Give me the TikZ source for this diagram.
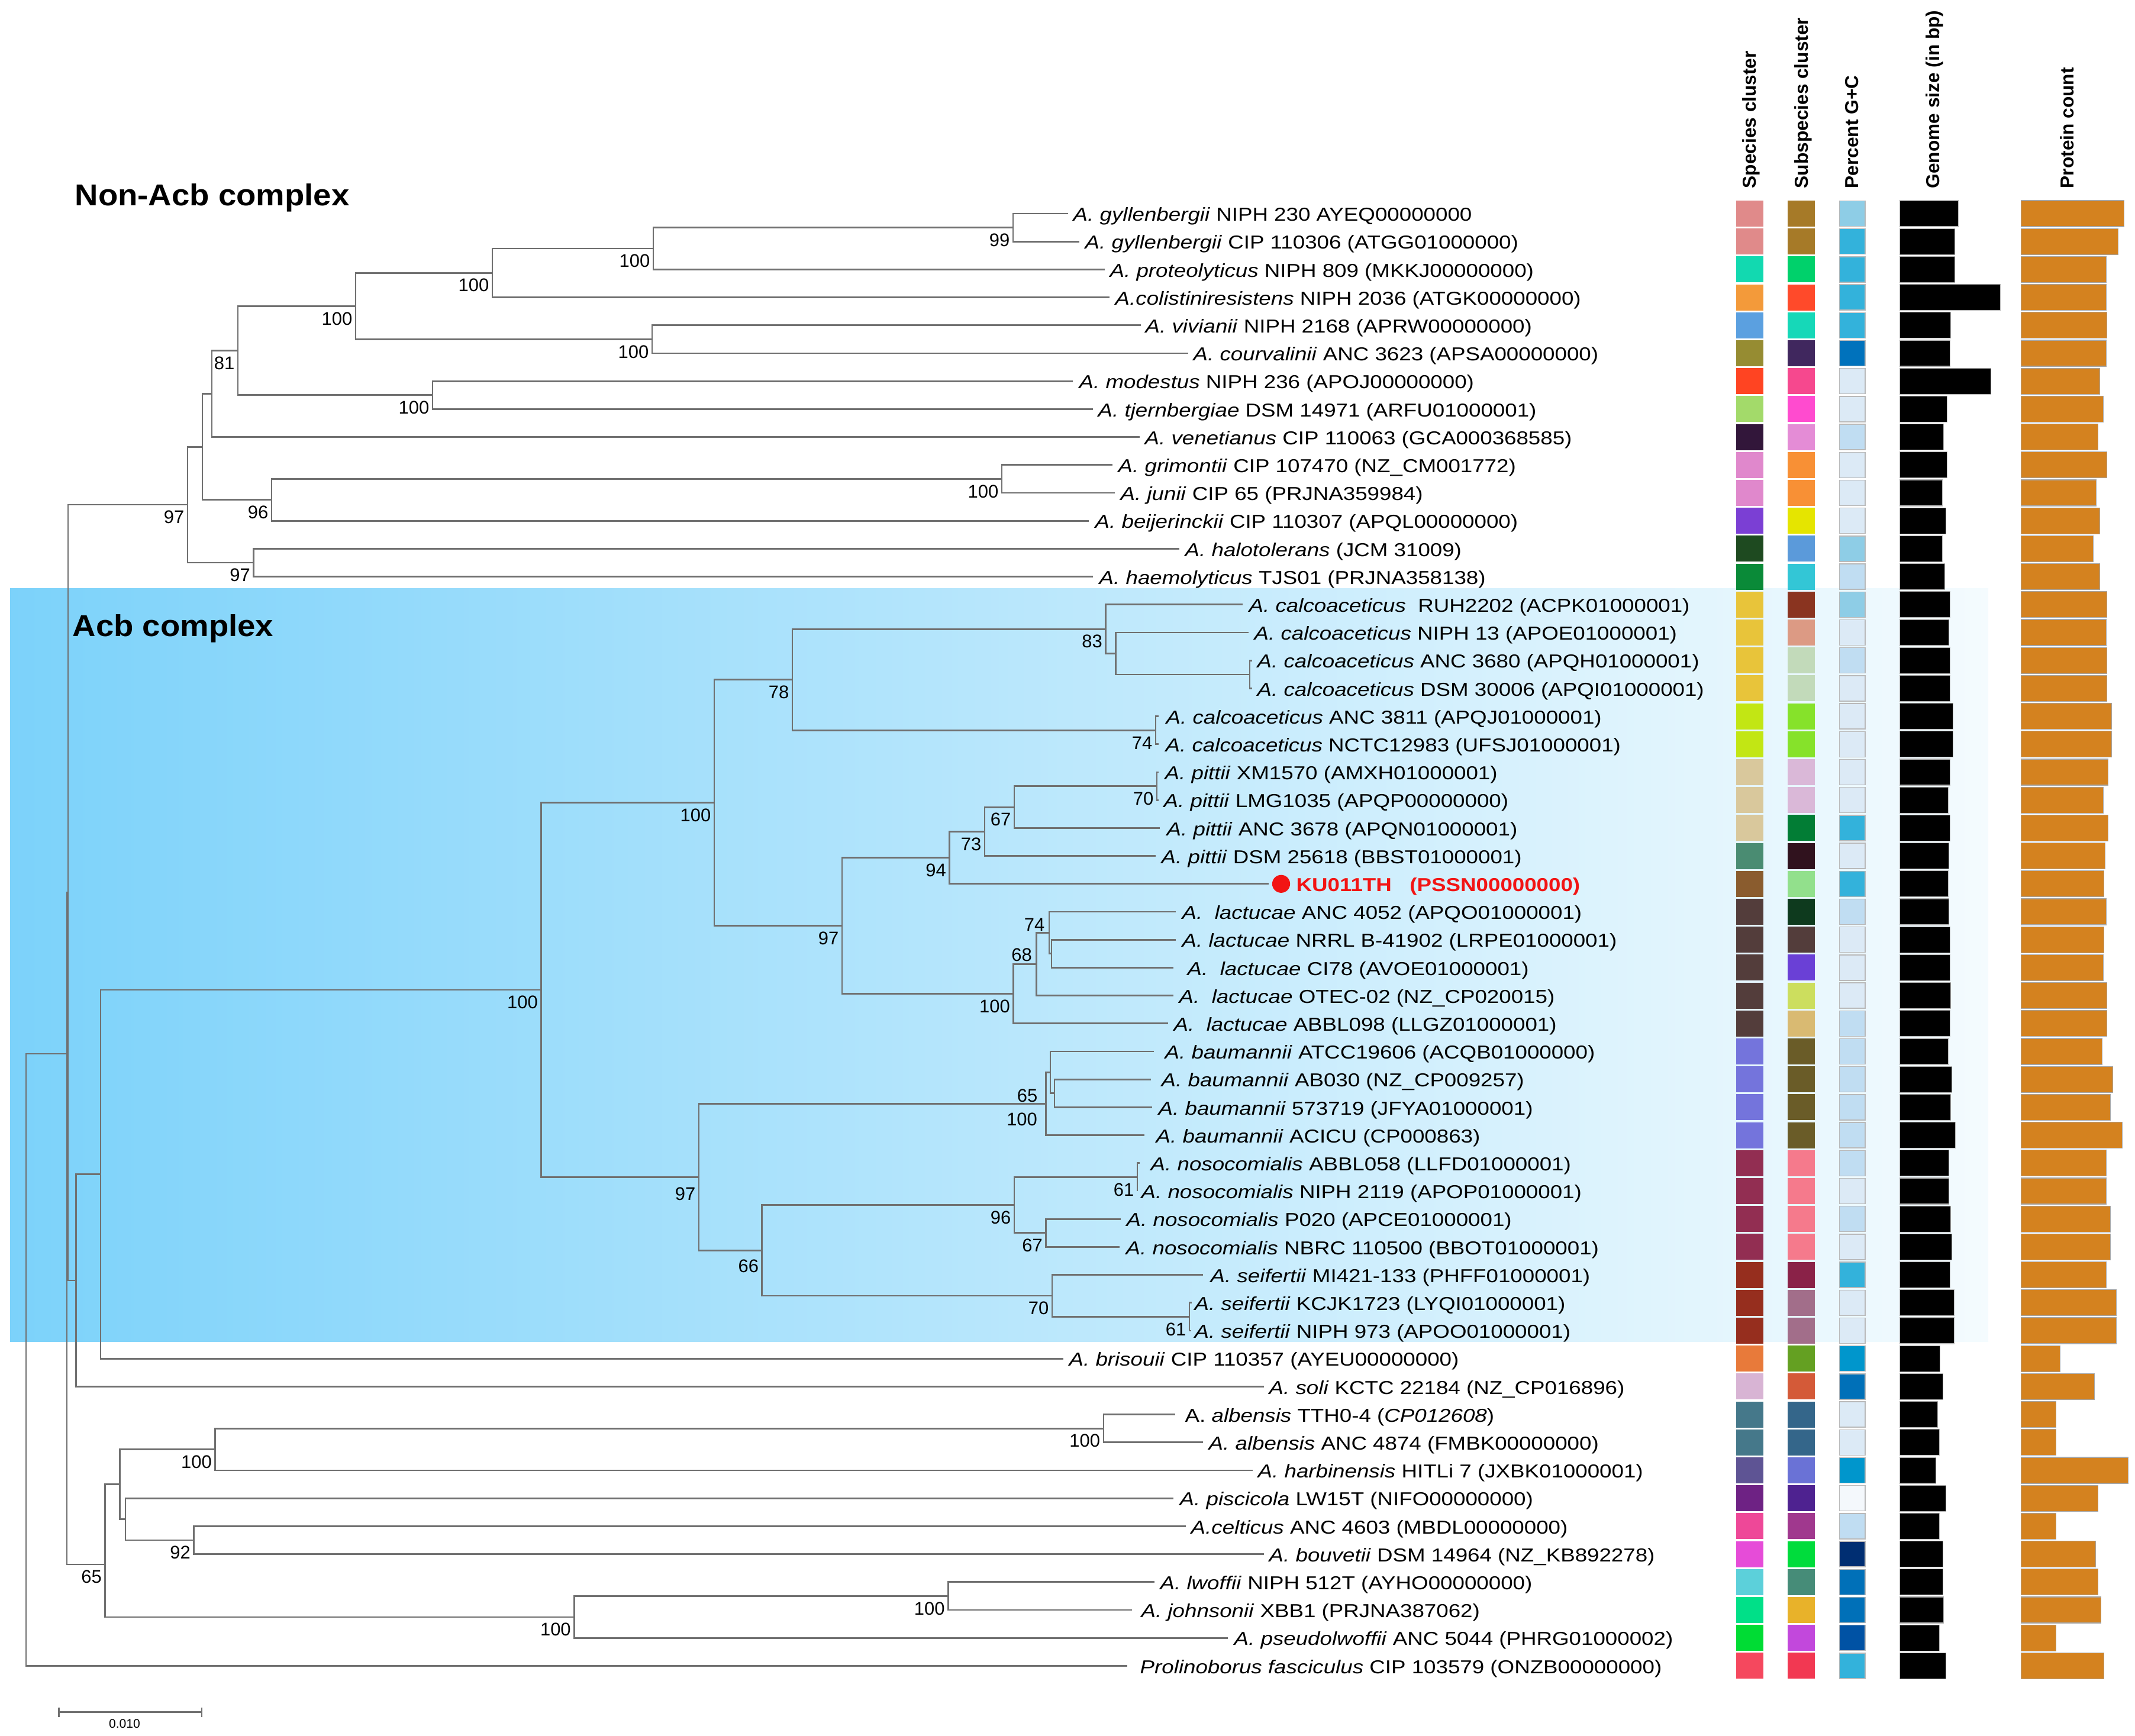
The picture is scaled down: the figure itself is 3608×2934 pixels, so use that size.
\documentclass[tikz,border=0pt]{standalone}
\usepackage{fontspec}
\setmainfont{Liberation Sans}
\newfontfamily\leaffont{Liberation Sans}[FakeStretch=1.16]
\newfontfamily\titlefont{Liberation Sans}[FakeStretch=1.07]
\usetikzlibrary{calc}

\definecolor{branchgray}{HTML}{707070}
\definecolor{protorange}{HTML}{D4821F}
\definecolor{kured}{HTML}{F21414}
\definecolor{acbleft}{HTML}{7CD2FA}
\definecolor{acbmid}{HTML}{C2EAFC}
\definecolor{acbright}{HTML}{F4FBFE}

\tikzset{
  br/.style={draw=branchgray, line width=0.75pt},
  leaftxt/.style={anchor=west, inner sep=0pt, text height=0.72em, text depth=0pt,
    font=\leaffont\fontsize{9}{10}\selectfont},
  bs/.style={anchor=east, inner sep=0pt, text height=0.72em, text depth=0pt,
    font=\fontsize{8.8}{10}\selectfont},
  colhead/.style={rotate=90, anchor=west, inner sep=0pt, text height=0.72em, text depth=0pt,
    font=\bfseries\fontsize{9}{10}\selectfont},
  grouptitle/.style={anchor=west, inner sep=0pt, text height=0.72em, text depth=0pt,
    font=\titlefont\bfseries\fontsize{14.5}{16}\selectfont},
}

% leaf: name, row, tip x, text x, label
\newcommand{\leaf}[5]{%
  \coordinate (#1) at (#3,{361+47.2*(#2-1)});
  \node[leaftxt] (#1t) at (#4,{361+47.2*(#2-1)}) {#5};}
% clade: parent, upper child, lower child
\newcommand{\clade}[3]{\draw[br] (#2) -| (#1) |- (#3);}
% bootstrap value left of a node
\newcommand{\boot}[3][-5,19]{\node[bs] (#2bs) at ($(#2)+(#1)$) {#3};}

\begin{document}
\begin{tikzpicture}[x=0.01cm, y=-0.01cm]
\useasboundingbox (0,0) rectangle (3608,2934);

% Acb complex background
\shade[left color=acbleft, middle color=acbmid, right color=acbright] (17,994) rectangle (3360,2267);

\node[grouptitle] (nonacbtitle) at (126,335) {Non-Acb complex};
\node[grouptitle] (acbtitle) at (122,1063) {Acb complex};

% leaves
\leaf{gyll1}{1}{1805}{1813}{\textit{A. gyllenbergii} NIPH 230 AYEQ00000000}
\leaf{gyll2}{2}{1824}{1833}{\textit{A. gyllenbergii} CIP 110306 (ATGG01000000)}
\leaf{proteo}{3}{1867}{1875}{\textit{A. proteolyticus} NIPH 809 (MKKJ00000000)}
\leaf{colist}{4}{1875}{1884}{\textit{A.colistiniresistens} NIPH 2036 (ATGK00000000)}
\leaf{vivian}{5}{1928}{1935}{\textit{A. vivianii} NIPH 2168 (APRW00000000)}
\leaf{courv}{6}{2008}{2016}{\textit{A. courvalinii} ANC 3623 (APSA00000000)}
\leaf{modest}{7}{1813}{1823}{\textit{A. modestus} NIPH 236 (APOJ00000000)}
\leaf{tjern}{8}{1847}{1855}{\textit{A. tjernbergiae} DSM 14971 (ARFU01000001)}
\leaf{venet}{9}{1926}{1934}{\textit{A. venetianus} CIP 110063 (GCA000368585)}
\leaf{grim}{10}{1880}{1889}{\textit{A. grimontii} CIP 107470 (NZ\_CM001772)}
\leaf{junii}{11}{1884}{1893}{\textit{A. junii} CIP 65 (PRJNA359984)}
\leaf{beij}{12}{1840}{1850}{\textit{A. beijerinckii} CIP 110307 (APQL00000000)}
\leaf{halot}{13}{1993}{2002}{\textit{A. halotolerans} (JCM 31009)}
\leaf{haemo}{14}{1847}{1857}{\textit{A. haemolyticus} TJS01 (PRJNA358138)}
\leaf{calc1}{15}{2100}{2110}{\textit{A. calcoaceticus}~ RUH2202 (ACPK01000001)}
\leaf{calc2}{16}{2110}{2119}{\textit{A. calcoaceticus} NIPH 13 (APOE01000001)}
\leaf{calc3}{17}{2116}{2124}{\textit{A. calcoaceticus} ANC 3680 (APQH01000001)}
\leaf{calc4}{18}{2116}{2124}{\textit{A. calcoaceticus} DSM 30006 (APQI01000001)}
\leaf{calc5}{19}{1958}{1970}{\textit{A. calcoaceticus} ANC 3811 (APQJ01000001)}
\leaf{calc6}{20}{1958}{1969}{\textit{A. calcoaceticus} NCTC12983 (UFSJ01000001)}
\leaf{pitt1}{21}{1958}{1968}{\textit{A. pittii} XM1570 (AMXH01000001)}
\leaf{pitt2}{22}{1958}{1966}{\textit{A. pittii} LMG1035 (APQP00000000)}
\leaf{pitt3}{23}{1960}{1971}{\textit{A. pittii} ANC 3678 (APQN01000001)}
\leaf{pitt4}{24}{1953}{1962}{\textit{A. pittii} DSM 25618 (BBST01000001)}
\coordinate (ku) at (2144,1493.8);
\node[circle, fill=kured, inner sep=0pt, minimum size=8.6pt] (kudot) at (2165,1493.8) {};
\node[leaftxt, text=kured, font=\leaffont\bfseries\fontsize{9}{10}\selectfont] (kut) at (2190,1493.8) {KU011TH~~ (PSSN00000000)};
\leaf{lact1}{26}{1987}{1997}{\textit{A.~ lactucae} ANC 4052 (APQO01000001)}
\leaf{lact2}{27}{1987}{1997}{\textit{A. lactucae} NRRL B-41902 (LRPE01000001)}
\leaf{lact3}{28}{1983}{2006}{\textit{A.~ lactucae} CI78 (AVOE01000001)}
\leaf{lact4}{29}{1983}{1992}{\textit{A.~ lactucae} OTEC-02 (NZ\_CP020015)}
\leaf{lact5}{30}{1974}{1983}{\textit{A.~ lactucae} ABBL098 (LLGZ01000001)}
\leaf{baum1}{31}{1950}{1968}{\textit{A. baumannii} ATCC19606 (ACQB01000000)}
\leaf{baum2}{32}{1945}{1962}{\textit{A. baumannii} AB030 (NZ\_CP009257)}
\leaf{baum3}{33}{1947}{1957}{\textit{A. baumannii} 573719 (JFYA01000001)}
\leaf{baum4}{34}{1934}{1953}{\textit{A. baumannii} ACICU (CP000863)}
\leaf{noso1}{35}{1926}{1944}{\textit{A. nosocomialis} ABBL058 (LLFD01000001)}
\leaf{noso2}{36}{1922}{1928}{\textit{A. nosocomialis} NIPH 2119 (APOP01000001)}
\leaf{noso3}{37}{1894}{1903}{\textit{A. nosocomialis} P020 (APCE01000001)}
\leaf{noso4}{38}{1892}{1902}{\textit{A. nosocomialis} NBRC 110500 (BBOT01000001)}
\leaf{seif1}{39}{2033}{2045}{\textit{A. seifertii} MI421-133 (PHFF01000001)}
\leaf{seif2}{40}{2014}{2018}{\textit{A. seifertii} KCJK1723 (LYQI01000001)}
\leaf{seif3}{41}{2013}{2018}{\textit{A. seifertii} NIPH 973 (APOO01000001)}
\leaf{bris}{42}{1797}{1806}{\textit{A. brisouii} CIP 110357 (AYEU00000000)}
\leaf{soli}{43}{2136}{2144}{\textit{A. soli} KCTC 22184 (NZ\_CP016896)}
\leaf{alb1}{44}{1986}{2002}{A. \textit{albensis} TTH0-4 (\textit{CP012608})}
\leaf{alb2}{45}{2033}{2042}{\textit{A. albensis} ANC 4874 (FMBK00000000)}
\leaf{harb}{46}{2117}{2125}{\textit{A. harbinensis} HITLi 7 (JXBK01000001)}
\leaf{pisc}{47}{1983}{1993}{\textit{A. piscicola} LW15T (NIFO00000000)}
\leaf{celt}{48}{2004}{2012}{\textit{A.celticus} ANC 4603 (MBDL00000000)}
\leaf{bouv}{49}{2136}{2144}{\textit{A. bouvetii} DSM 14964 (NZ\_KB892278)}
\leaf{lwof}{50}{1951}{1960}{\textit{A. lwoffii} NIPH 512T (AYHO00000000)}
\leaf{john}{51}{1913}{1928}{\textit{A. johnsonii} XBB1 (PRJNA387062)}
\leaf{pslw}{52}{2075}{2085}{\textit{A. pseudolwoffii} ANC 5044 (PHRG01000002)}
\leaf{proli}{53}{1905}{1926}{\textit{Prolinoborus fasciculus} CIP 103579 (ONZB00000000)}

% internal nodes, non-Acb
\coordinate (gy) at (1712,384.6);
\coordinate (gp) at (1104,420);
\coordinate (gpc) at (832,461.3);
\coordinate (vc) at (1102,573.4);
\coordinate (g5) at (601,517.4);
\coordinate (mt) at (731,667.8);
\coordinate (g7) at (402,592.6);
\coordinate (g8) at (358,665.6);
\coordinate (gj) at (1693,809.4);
\coordinate (gjb) at (459,844.8);
\coordinate (g11) at (342,755.2);
\coordinate (hh) at (428.6,951);
\coordinate (nonacb) at (317,853.1);
% internal nodes, Acb
\coordinate (cpair) at (2112,1140);
\coordinate (c16) at (1885.5,1104.5);
\coordinate (c83) at (1868.6,1063.2);
\coordinate (c74) at (1953,1234.4);
\coordinate (c78) at (1339,1148.8);
\coordinate (p70) at (1955,1328.8);
\coordinate (p67) at (1714,1364.2);
\coordinate (p73) at (1664,1405.5);
\coordinate (p94) at (1604.6,1449.8);
\coordinate (l77) at (1777,1611.8);
\coordinate (l74) at (1773,1576.4);
\coordinate (l68) at (1751.5,1629.5);
\coordinate (l100) at (1712.5,1679.7);
\coordinate (pl97) at (1423,1564.7);
\coordinate (c100) at (1207,1356.8);
\coordinate (b82) at (1782,1847.8);
\coordinate (b65) at (1775,1812.4);
\coordinate (b100) at (1767.6,1865.5);
\coordinate (n61) at (1922,1989.4);
\coordinate (n67) at (1767.6,2083.8);
\coordinate (n96) at (1714,2036.6);
\coordinate (s61) at (2010,2225.4);
\coordinate (s70) at (1778,2190);
\coordinate (ns66) at (1287.7,2113.3);
\coordinate (bns97) at (1181,1989.4);
\coordinate (acb) at (914.5,1673.1);
\coordinate (a170) at (170,1984.7);
\coordinate (a128) at (128.6,2164);
\coordinate (pp) at (115,1508.5);
% internal nodes, basal lineages
\coordinate (alb) at (1864.8,2414.2);
\coordinate (ah) at (363.5,2449.6);
\coordinate (cb92) at (327.5,2603);
\coordinate (pcb) at (212,2567.6);
\coordinate (x2) at (202.8,2508.6);
\coordinate (lj) at (1602.3,2697.4);
\coordinate (ljp) at (970.4,2732.8);
\coordinate (n65) at (177.5,2644);
\coordinate (xx) at (113,1781);
\coordinate (root) at (44,2298);

% branches
\clade{gy}{gyll1}{gyll2}
\clade{gp}{gy}{proteo}
\clade{gpc}{gp}{colist}
\clade{vc}{vivian}{courv}
\clade{g5}{gpc}{vc}
\clade{mt}{modest}{tjern}
\clade{g7}{g5}{mt}
\clade{g8}{g7}{venet}
\clade{gj}{grim}{junii}
\clade{gjb}{gj}{beij}
\clade{g11}{g8}{gjb}
\clade{hh}{halot}{haemo}
\clade{nonacb}{g11}{hh}
\clade{cpair}{calc3}{calc4}
\clade{c16}{calc2}{cpair}
\clade{c83}{calc1}{c16}
\clade{c74}{calc5}{calc6}
\clade{c78}{c83}{c74}
\clade{p70}{pitt1}{pitt2}
\clade{p67}{p70}{pitt3}
\clade{p73}{p67}{pitt4}
\clade{p94}{p73}{ku}
\clade{l77}{lact2}{lact3}
\clade{l74}{lact1}{l77}
\clade{l68}{l74}{lact4}
\clade{l100}{l68}{lact5}
\clade{pl97}{p94}{l100}
\clade{c100}{c78}{pl97}
\clade{b82}{baum2}{baum3}
\clade{b65}{baum1}{b82}
\clade{b100}{b65}{baum4}
\clade{n61}{noso1}{noso2}
\clade{n67}{noso3}{noso4}
\clade{n96}{n61}{n67}
\clade{s61}{seif2}{seif3}
\clade{s70}{seif1}{s61}
\clade{ns66}{n96}{s70}
\clade{bns97}{b100}{ns66}
\clade{acb}{c100}{bns97}
\clade{a170}{acb}{bris}
\clade{a128}{a170}{soli}
\clade{pp}{nonacb}{a128}
\clade{alb}{alb1}{alb2}
\clade{ah}{alb}{harb}
\clade{cb92}{celt}{bouv}
\clade{pcb}{pisc}{cb92}
\clade{x2}{ah}{pcb}
\clade{lj}{lwof}{john}
\clade{ljp}{lj}{pslw}
\clade{n65}{x2}{ljp}
\clade{xx}{pp}{n65}
\clade{root}{xx}{proli}

% bootstrap values
\boot{gy}{99}
\boot{gp}{100}
\boot{gpc}{100}
\boot{vc}{100}
\boot{g5}{100}
\boot{mt}{100}
\boot{g7}{81}
\boot{gj}{100}
\boot{gjb}{96}
\boot{hh}{97}
\boot{nonacb}{97}
\boot{c83}{83}
\boot{c78}{78}
\boot{c74}{74}
\boot{p70}{70}
\boot{p67}{67}
\boot{p73}{73}
\boot{p94}{94}
\boot{c100}{100}
\boot{pl97}{97}
\boot{acb}{100}
\boot[-7,-16]{l74}{74}
\boot[-7,-18]{l68}{68}
\boot{l100}{100}
\boot[-21,37.6]{b65}{65}
\boot[-14,24.5]{b100}{100}
\boot{n61}{61}
\boot{n67}{67}
\boot{n96}{96}
\boot{s61}{61}
\boot{s70}{70}
\boot[-5,25]{ns66}{66}
\boot[-5,26]{bns97}{97}
\boot{alb}{100}
\boot{ah}{100}
\boot{cb92}{92}
\boot{lj}{100}
\boot{ljp}{100}
\boot{n65}{65}

% scale bar
\coordinate (sbl) at (99.5,2893.5);
\coordinate (sbr) at (340.6,2893.5);
\draw[br, line width=0.6pt] (sbl) -- (sbr);
\draw[br, line width=0.6pt] ($(sbl)+(0,-8)$) -- ($(sbl)+(0,8)$);
\draw[br, line width=0.6pt] ($(sbr)+(0,-8)$) -- ($(sbr)+(0,8)$);
\node[inner sep=0pt, font=\fontsize{6}{7}\selectfont] (sbtxt) at (210.5,2913) {0.010};

% column headers
\node[colhead] (hspec) at (2955,319) {Species cluster};
\node[colhead] (hsub) at (3042.5,319) {Subspecies cluster};
\node[colhead] (hgc) at (3128,319) {Percent G+C};
\node[colhead] (hgen) at (3265,319) {Genome size (in bp)};
\node[colhead] (hprot) at (3492,319) {Protein count};

% data columns: row / species / subspecies / G+C / genome bar end / protein bar end
\foreach \r/\csp/\csub/\cgc/\gen/\prot in {
 1/E08A8A/A67A28/8ECDE6/3309/3589, 2/E08A8A/A67A28/33B2DB/3303/3579,
 3/12D9B0/00D16B/33B2DB/3303/3559, 4/F39A3A/FF4A2A/33B2DB/3380/3559,
 5/5BA0E0/16D8B8/33B2DB/3296/3560, 6/968C32/40275E/0072BC/3295/3559,
 7/FF4422/F6488E/DCEAF6/3364/3548, 8/A3DA6A/FF4BCF/DCEAF6/3290/3554,
 9/32163A/E48CD6/C0DDF2/3284/3545, 10/E088CC/F89035/DCEAF6/3290/3560,
 11/E088CC/F89035/DCEAF6/3282/3542, 12/7B3FD4/E5E500/DCEAF6/3288/3548,
 13/1E4A20/5B9ADA/8ECDE6/3282/3537, 14/0A8A38/33C6D6/C0DDF2/3286/3548,
 15/E8C43A/8A3420/8ECDE6/3295/3560, 16/E8C43A/DC9A84/DCEAF6/3293/3559,
 17/E8C43A/C2DABA/C0DDF2/3295/3560, 18/E8C43A/C2DABA/DCEAF6/3295/3560,
 19/C2E614/86E22A/DCEAF6/3300/3568, 20/C2E614/86E22A/DCEAF6/3300/3568,
 21/D9C89C/DAB8D8/DCEAF6/3295/3562, 22/D9C89C/DAB8D8/DCEAF6/3292/3554,
 23/D9C89C/027D35/33B2DB/3295/3562, 24/4A8C72/30121E/DCEAF6/3293/3557,
 25/8A5C2E/92E08C/33B2DB/3292/3555, 26/533D3B/0E3A1E/C0DDF2/3293/3559,
 27/533D3B/533D3B/DCEAF6/3295/3555, 28/533D3B/6A40D6/DCEAF6/3295/3554,
 29/533D3B/CCDE5E/DCEAF6/3296/3560, 30/533D3B/D9BA72/C0DDF2/3295/3560,
 31/7474DC/6A5C28/C0DDF2/3292/3552, 32/7474DC/6A5C28/C0DDF2/3298/3570,
 33/7474DC/6A5C28/C0DDF2/3296/3566, 34/7474DC/6A5C28/C0DDF2/3304/3586,
 35/922E52/F57A8C/C0DDF2/3293/3559, 36/922E52/F57A8C/DCEAF6/3293/3559,
 37/922E52/F57A8C/C0DDF2/3296/3566, 38/922E52/F57A8C/DCEAF6/3298/3566,
 39/962E1E/8A2248/33B2DB/3295/3559, 40/962E1E/A26E8A/DCEAF6/3302/3576,
 41/962E1E/A26E8A/DCEAF6/3302/3576, 42/E87A3A/64A022/0096CC/3278/3481,
 43/D8B4D4/D45A38/0070B8/3283/3539, 44/45788A/34668A/DCEAF6/3274/3474,
 45/45788A/34668A/DCEAF6/3277/3474, 46/5E5494/6A72D6/0096CC/3271/3596,
 47/6E2284/4E2290/F4F8FC/3288/3545, 48/EE4898/A0388E/C0DDF2/3277/3474,
 49/E64CD8/00DC3C/002E72/3283/3541, 50/5CD0DA/468C78/0070B8/3283/3545,
 51/00E088/E8B22A/0070B8/3284/3550, 52/00DC34/C248DC/0052A4/3277/3474,
 53/F5485E/F23852/33B2DB/3288/3555}{
  \pgfmathsetmacro{\yy}{361+47.2*(\r-1)}
  \definecolor{cellsp}{HTML}{\csp}
  \definecolor{cellsub}{HTML}{\csub}
  \definecolor{cellgc}{HTML}{\cgc}
  \fill[cellsp] (2934,\yy-22) rectangle (2980,\yy+22);
  \fill[cellsub] (3021,\yy-22) rectangle (3067,\yy+22);
  \filldraw[fill=cellgc, draw=gray!55, line width=0.4pt] (3108.5,\yy-21.5) rectangle (3152,\yy+21.5);
  \filldraw[fill=black, draw=gray!60, line width=0.3pt] (3210.5,\yy-22) rectangle (\gen,\yy+22);
  \filldraw[fill=protorange, draw=gray!70, line width=0.3pt] (3415,\yy-22) rectangle (\prot,\yy+22);
}
\end{tikzpicture}
\end{document}
